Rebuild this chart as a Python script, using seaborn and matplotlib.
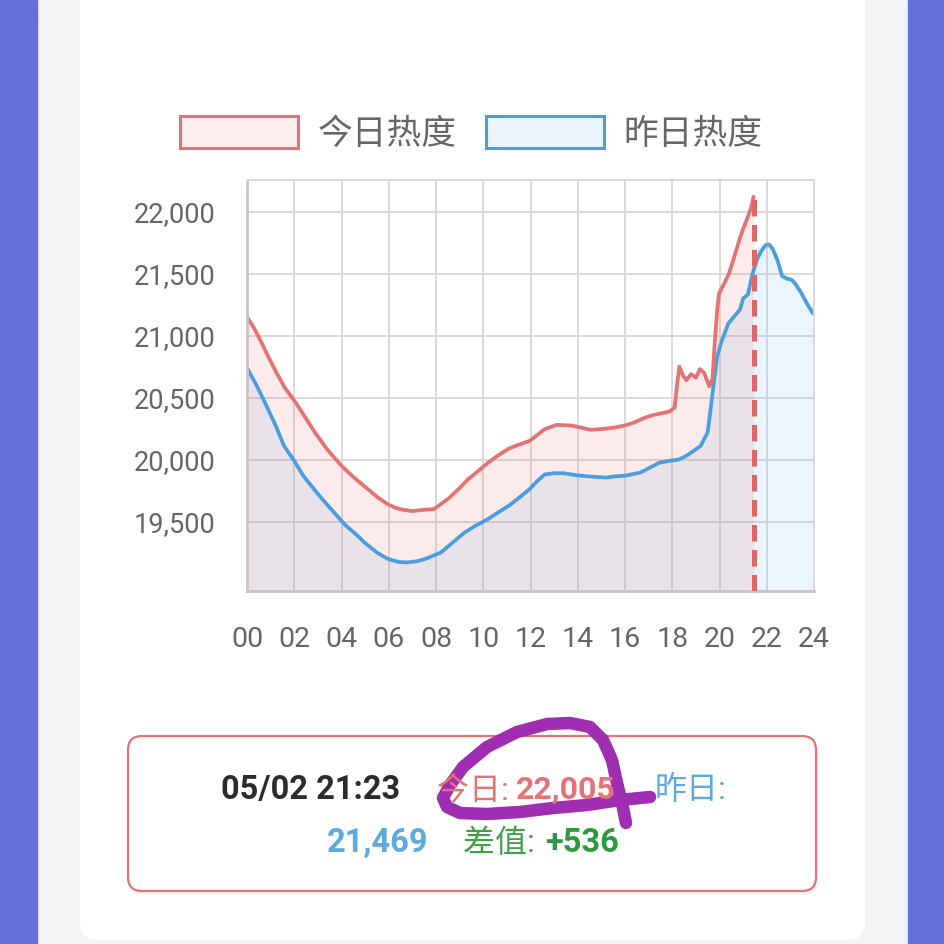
import matplotlib
matplotlib.use("Agg")
import matplotlib.pyplot as plt
import seaborn as sns
import pandas as pd
from matplotlib.patches import Patch, Rectangle, FancyBboxPatch

# 数据
hours_today = [0.0, 0.3, 0.6, 0.9, 1.25, 1.6, 2.06, 2.5, 2.87, 3.4, 4.0, 4.5, 5.0, 5.5, 5.95,
               6.3, 6.6, 7.0, 7.5, 7.9, 8.2, 8.55, 9.0, 9.35, 9.8, 10.2, 10.6, 11.1, 11.5, 11.95,
               12.3, 12.6, 13.1, 13.7, 14.1, 14.55, 15.2, 15.6, 16.0, 16.4, 16.8, 17.2, 17.6, 17.9,
               18.1, 18.2, 18.3, 18.45, 18.6, 18.8, 19.0, 19.17, 19.35, 19.57, 19.7, 19.8, 19.9,
               19.98, 20.2, 20.4, 20.6, 20.87, 21.0, 21.2, 21.35, 21.44]
heat_today = [21150, 21060, 20950, 20830, 20700, 20580, 20460, 20330, 20220, 20080, 19950, 19860,
              19780, 19700, 19640, 19610, 19595, 19585, 19595, 19600, 19640, 19690, 19770, 19840,
              19910, 19975, 20030, 20090, 20120, 20150, 20200, 20245, 20280, 20275, 20260, 20240,
              20250, 20260, 20275, 20300, 20335, 20360, 20375, 20390, 20420, 20600, 20750, 20680,
              20640, 20690, 20660, 20730, 20700, 20590, 20650, 20950, 21200, 21340, 21420, 21500,
              21620, 21790, 21860, 21960, 22040, 22120]

hours_yest = [0.0, 0.4, 0.76, 1.2, 1.57, 2.0, 2.38, 2.8, 3.19, 3.7, 4.17, 4.6, 4.98, 5.5, 5.95,
              6.4, 6.76, 7.2, 7.57, 8.2, 8.7, 9.2, 9.7, 10.2, 10.6, 11.1, 11.5, 11.95, 12.3, 12.6,
              13.0, 13.4, 13.9, 14.4, 14.8, 15.2, 15.6, 16.0, 16.65, 17.0, 17.46, 17.9, 18.27, 18.6,
              18.9, 19.2, 19.5, 19.65, 19.75, 19.9, 20.1, 20.38, 20.6, 20.87, 21.0, 21.2, 21.4,
              21.6, 21.76, 21.95, 22.1, 22.25, 22.45, 22.65, 22.85, 23.06, 23.2, 23.46, 23.7, 23.95]
heat_yest = [20740, 20600, 20460, 20280, 20110, 19990, 19870, 19770, 19680, 19570, 19470, 19400,
             19330, 19250, 19200, 19175, 19170, 19180, 19200, 19250, 19330, 19410, 19470, 19520,
             19570, 19630, 19690, 19760, 19830, 19880, 19890, 19890, 19875, 19865, 19860, 19855,
             19865, 19870, 19895, 19930, 19975, 19990, 20000, 20030, 20070, 20110, 20220, 20450,
             20600, 20830, 20960, 21100, 21150, 21210, 21300, 21330, 21500, 21620, 21680, 21730,
             21735, 21700, 21610, 21480, 21460, 21450, 21420, 21345, 21260, 21180]

x_ticks = list(range(0, 25, 2))
x_labels = [f"{h:02d}" for h in x_ticks]
y_ticks = [19500, 20000, 20500, 21000, 21500, 22000]
y_min, y_max = 18940, 22255

legend_labels = ["今日热度", "昨日热度"]
now_label = "05/02 21:23"
now_hour = 21.44
now_today = "22,005"
now_yest = "21,469"
now_diff = "+536"

RED = "#e57373"
BLUE = "#4b9fe1"
GRAY = "#666666"

df_today = pd.DataFrame({"hour": hours_today, "heat": heat_today})
df_yest = pd.DataFrame({"hour": hours_yest, "heat": heat_yest})

sns.set_theme(style="white")
plt.rcParams["font.family"] = ["Roboto", "Noto Sans CJK SC", "DejaVu Sans"]

fig = plt.figure(figsize=(9.44, 9.44), dpi=100)

# 背景：截图边框和卡片
bg = fig.add_axes([0, 0, 1, 1], zorder=-10)
bg.set_xlim(0, 944)
bg.set_ylim(944, 0)
bg.axis("off")
bg.add_patch(Rectangle((0, 0), 944, 944, color="#f3f3f5"))
bg.add_patch(Rectangle((0, 0), 37, 944, color="#6272d8"))
bg.add_patch(Rectangle((908, 0), 36, 944, color="#6272d8"))
bg.add_patch(FancyBboxPatch((80, -40), 785, 980, boxstyle="round,pad=0,rounding_size=18",
                            fc="white", ec="none"))

# 主图
ax = fig.add_axes([247 / 944, 1 - 591 / 944, 567 / 944, 411 / 944])
ax.set_facecolor("none")
ax.fill_between(hours_yest, heat_yest, y_min, color="#64b5f6", alpha=0.13, lw=0)
ax.fill_between(hours_today, heat_today, y_min, color=RED, alpha=0.14, lw=0)
sns.lineplot(data=df_yest, x="hour", y="heat", ax=ax, color=BLUE, lw=2.7)
sns.lineplot(data=df_today, x="hour", y="heat", ax=ax, color=RED, lw=2.7)
ax.vlines(now_hour, y_min, heat_today[-1], colors="#e06666", lw=3.6,
          linestyles=(0, (3.3, 1.7)), zorder=4)

ax.set_xlim(0, 24)
ax.set_ylim(y_min, y_max)
ax.set_xticks(x_ticks)
ax.set_xticklabels(x_labels, fontsize=20.5, color=GRAY)
ax.set_yticks([y_min] + y_ticks + [y_max])
ax.set_yticklabels([""] + [f"{v:,}" for v in y_ticks] + [""], fontsize=19.5, color=GRAY)
ax.grid(True, color="#dadada", lw=1.4)
ax.set_axisbelow(True)
ax.tick_params(axis="y", length=16, width=1.4, color="#dadada", pad=7)
ax.tick_params(axis="x", length=15, width=1.4, color="#d0d0d0", pad=10)
for side in ["top", "right"]:
    ax.spines[side].set_color("#dadada")
    ax.spines[side].set_linewidth(1.4)
for side in ["left", "bottom"]:
    ax.spines[side].set_color("#c9c4c9")
    ax.spines[side].set_linewidth(2)
ax.set_xlabel("")
ax.set_ylabel("")

# 图例
handles = [Patch(fc="#fdeeee", ec=RED, lw=2.2), Patch(fc="#eaf4fd", ec=BLUE, lw=2.2)]
fig.legend(handles, legend_labels, loc="center", bbox_to_anchor=(0.499, 0.859), ncol=2,
           frameon=False, fontsize=25, labelcolor=GRAY, handlelength=3.4, handleheight=1.05,
           handletextpad=0.55, columnspacing=0.85, borderpad=0)

# 信息框
fg = fig.add_axes([0, 0, 1, 1], zorder=10)
fg.set_xlim(0, 944)
fg.set_ylim(944, 0)
fg.axis("off")
fg.patch.set_alpha(0)
fg.add_patch(FancyBboxPatch((130, 740), 688, 155, boxstyle="round,pad=0,rounding_size=14",
                            fc="#eeeeee", ec="none", alpha=0.6))
fg.add_patch(FancyBboxPatch((128, 736), 688, 155, boxstyle="round,pad=0,rounding_size=14",
                            fc="white", ec=RED, lw=1.6))
fg.text(221, 799, now_label, fontsize=23.5, fontweight="bold", color="#2b2b2b", va="baseline")
fg.text(437, 799, "今日: ", fontsize=23, color=RED, va="baseline")
fg.text(516, 799, now_today, fontsize=23, fontweight="bold", color=RED, va="baseline")
fg.text(655, 799, "昨日:", fontsize=23, color="#5aabe0", va="baseline")
fg.text(327, 852, now_yest, fontsize=23.5, fontweight="bold", color="#5aabe0", va="baseline")
fg.text(463, 852, "差值: ", fontsize=23, color="#43a047", va="baseline")
fg.text(545, 852, now_diff, fontsize=23.5, fontweight="bold", color="#2e9a40", va="baseline")

# 手写圈注
scribble_x = [650, 620, 587, 553, 520, 487, 460, 447, 443, 450, 463, 487, 517, 547, 570, 590,
              603, 612, 617, 622, 626]
scribble_y = [797, 800, 805, 808, 812, 814, 813, 807, 798, 785, 767, 747, 732, 724, 723, 727,
              740, 760, 783, 803, 823]
fg.plot(scribble_x, scribble_y, color="#9c27b0", lw=9, solid_capstyle="round",
        solid_joinstyle="round", alpha=0.97)

fig.savefig("out.png", dpi=100)
